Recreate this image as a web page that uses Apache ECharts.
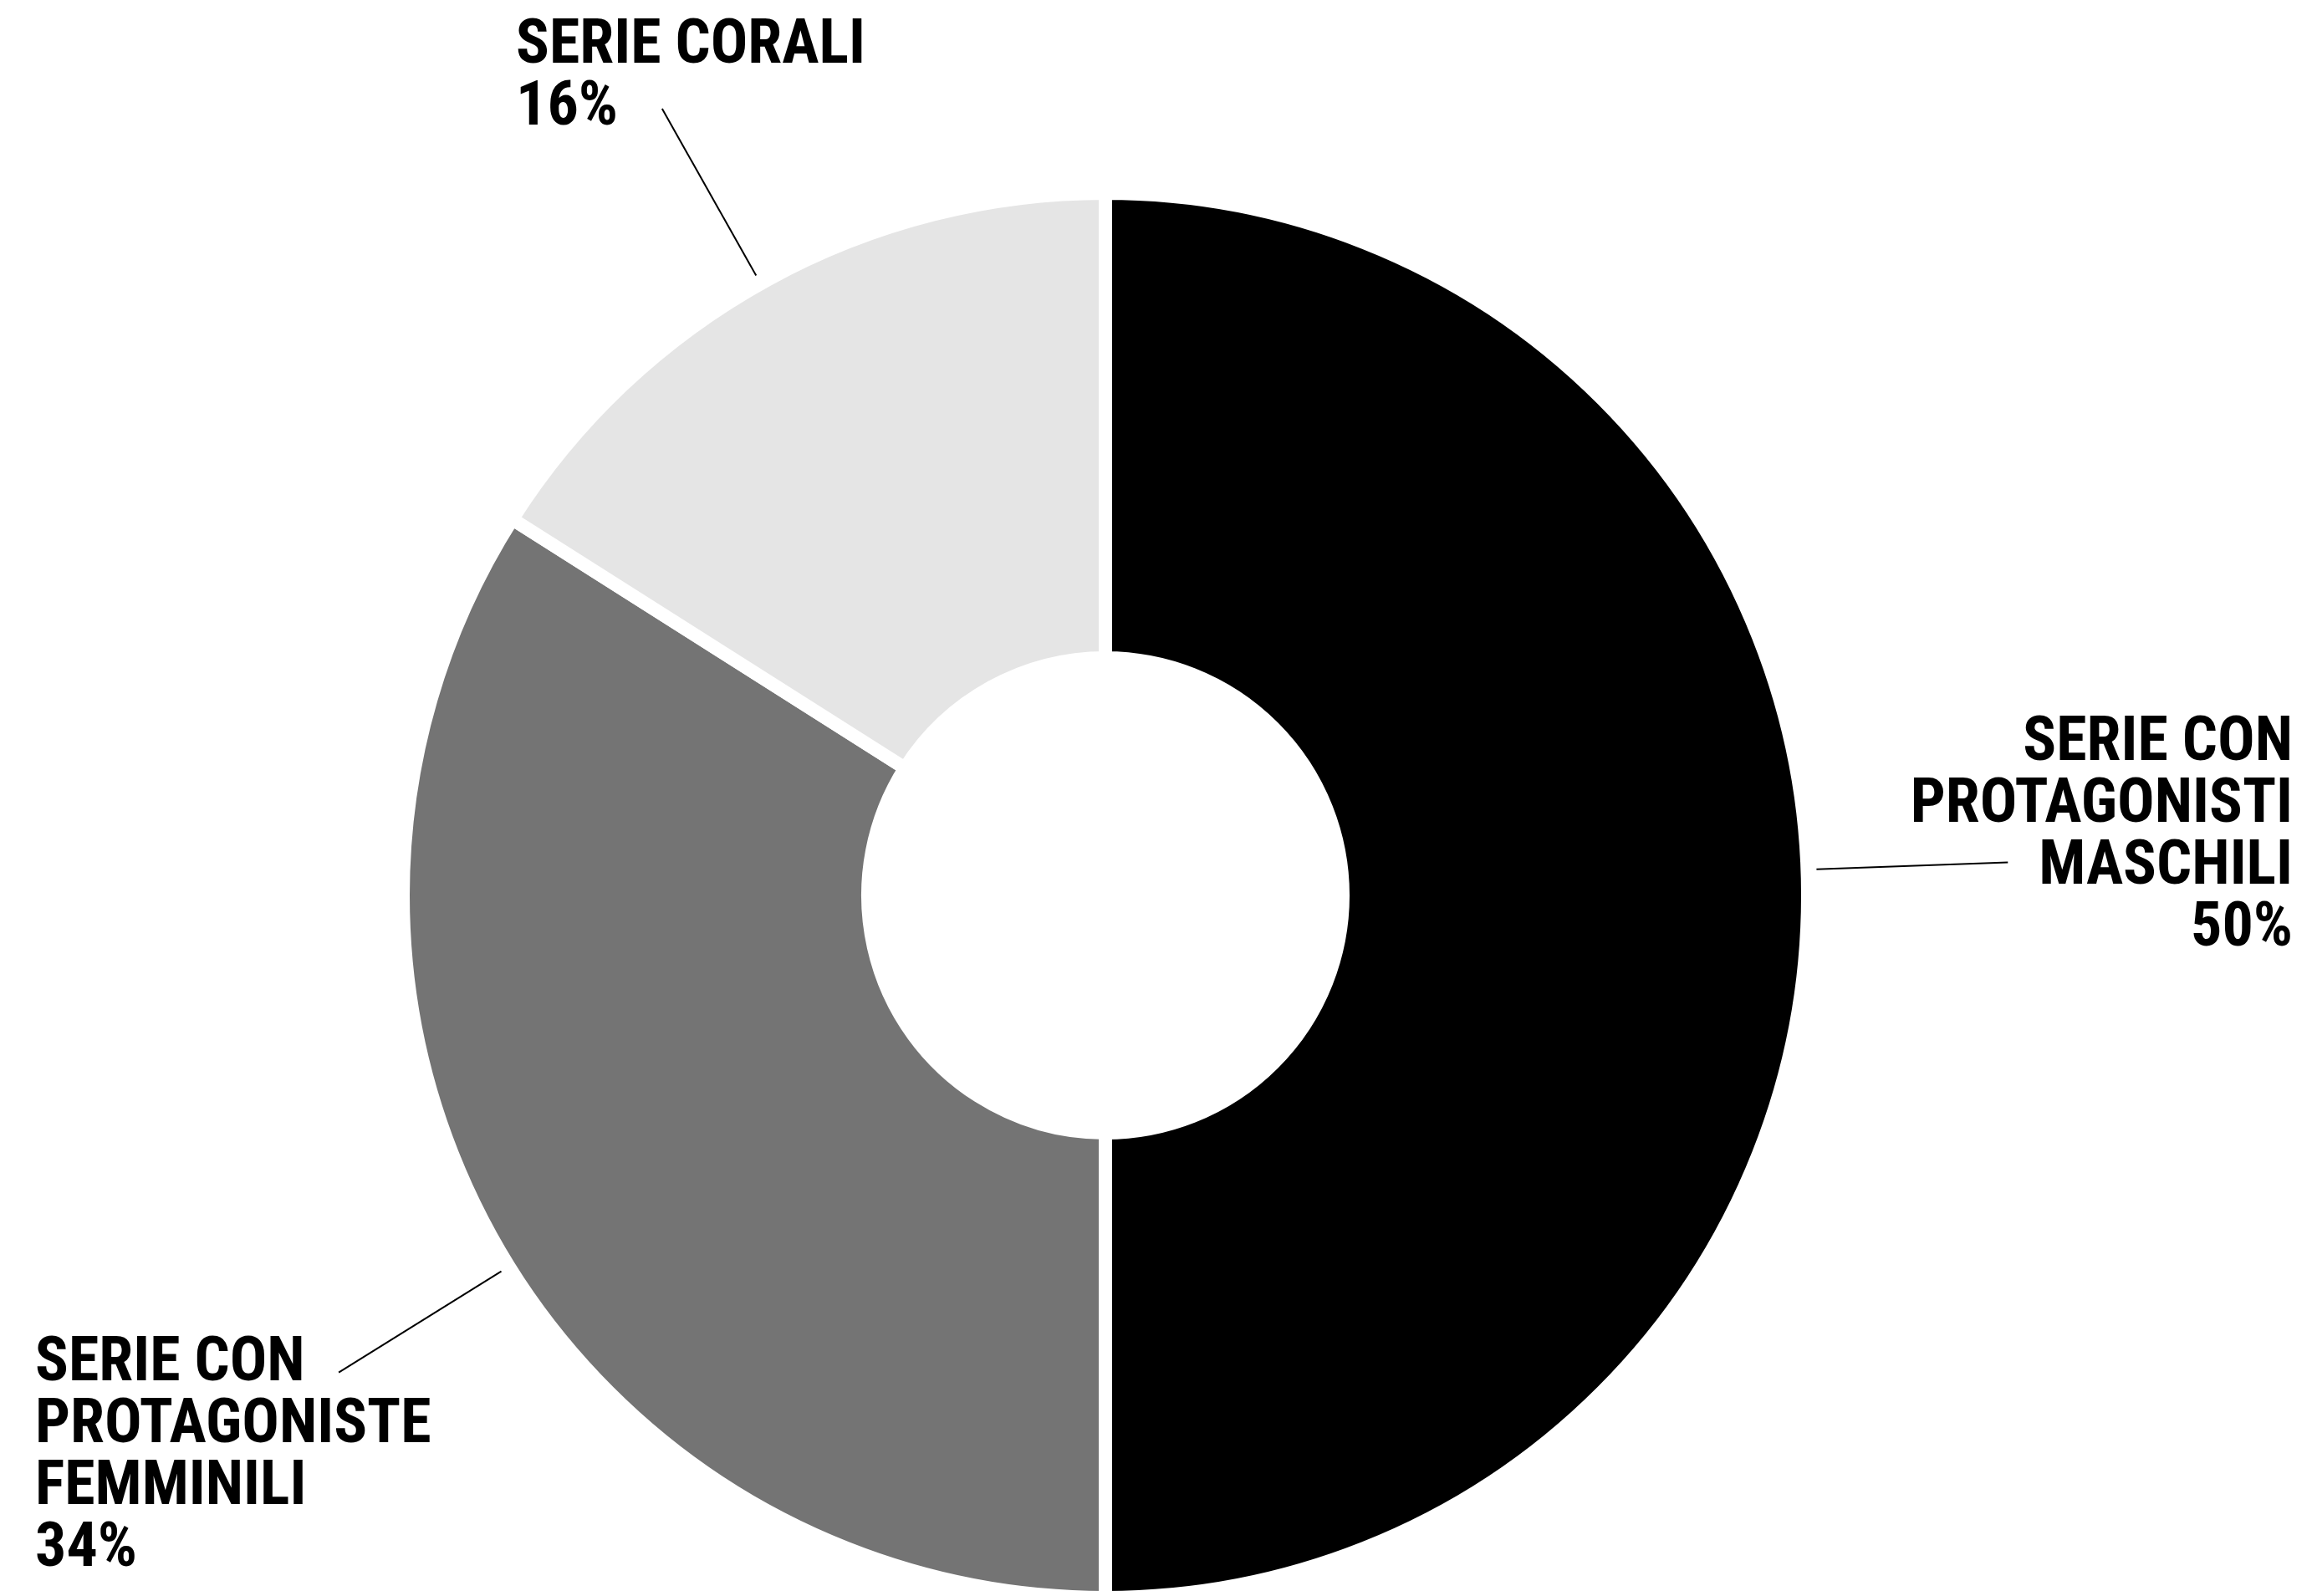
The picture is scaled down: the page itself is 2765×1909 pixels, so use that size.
<!DOCTYPE html>
<html>
<head>
<meta charset="utf-8">
<script src="https://cdn.jsdelivr.net/npm/echarts@6/dist/echarts.min.js"></script>
<style>
html,body{margin:0;padding:0;background:#fff;}
#chart{width:2765px;height:1909px;}
</style>
</head>
<body>
<div id="chart"></div>
<script>
// ---- data ----
const categories = [
  'SERIE CON\nPROTAGONISTI\nMASCHILI',
  'SERIE CON\nPROTAGONISTE\nFEMMINILI',
  'SERIE CORALI'
];
const values = [50, 34, 16];
const colors = ['#000000', '#747474', '#e5e5e5'];

// ---- layout (positions only) ----
const CX = 1322, CY = 1071;
const labelAnchors = [
  {x: 2742, y: 853, align: 'right'},
  {x: 42, y: 1595, align: 'left'},
  {x: 617, y: 19, align: 'left'}
];
const leaderAngleShift = [-2.1, -3.1, -0.6];
const leaderR = [851, 1080];

const total = values.reduce((a, b) => a + b, 0);
function midAngle(i) {
  let cum = 0;
  for (let k = 0; k < i; k++) cum += values[k];
  return ((cum + values[i] / 2) / total) * 360 + leaderAngleShift[i];
}
function polar(r, deg) {
  const a = deg * Math.PI / 180;
  return [CX + r * Math.sin(a), CY - r * Math.cos(a)];
}

const chart = echarts.init(document.getElementById('chart'), null, {renderer: 'canvas'});
chart.setOption({
  backgroundColor: '#ffffff',
  animation: false,
  series: [{
    type: 'pie',
    center: [CX, CY],
    radius: [284, 840],
    startAngle: 90,
    clockwise: true,
    avoidLabelOverlap: false,
    itemStyle: {borderColor: '#ffffff', borderWidth: 16},
    emphasis: {disabled: true},
    label: {
      show: true,
      position: 'outside',
      formatter: p => p.name + '\n' + p.value + '%',
      fontFamily: "'Roboto Condensed', 'Open Sans Condensed', 'DejaVu Sans Condensed', sans-serif",
      fontWeight: 'bold',
      fontSize: 74,
      lineHeight: 74,
      color: '#000000'
    },
    labelLine: {
      show: true,
      length: 200,
      length2: 0,
      lineStyle: {color: '#000000', width: 2}
    },
    labelLayout: function (params) {
      const i = params.dataIndex;
      const a = midAngle(i);
      const anc = labelAnchors[i];
      return {
        x: anc.x,
        y: anc.y,
        align: anc.align,
        verticalAlign: 'top',
        labelLinePoints: [polar(leaderR[0], a), polar(leaderR[1], a)]
      };
    },
    data: categories.map((c, i) => ({
      name: c,
      value: values[i],
      itemStyle: {color: colors[i]}
    }))
  }]
});
</script>
</body>
</html>
